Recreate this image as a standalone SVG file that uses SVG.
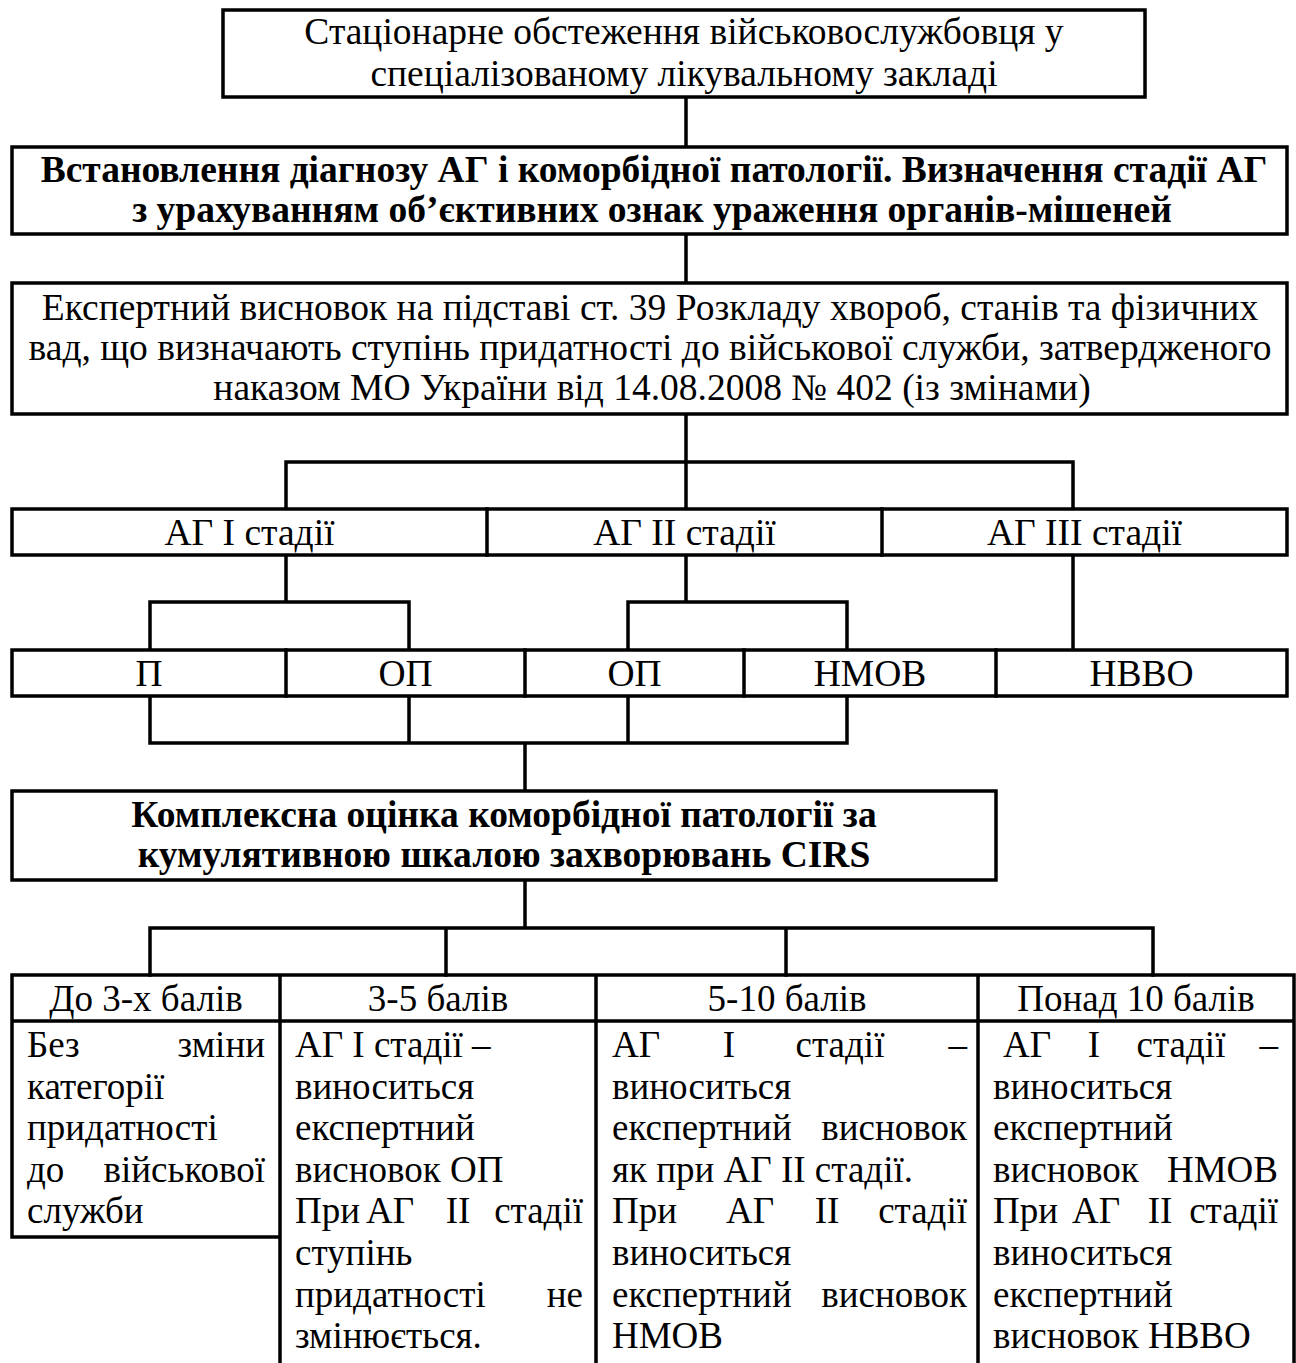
<svg xmlns="http://www.w3.org/2000/svg" width="1296" height="1363" viewBox="0 0 1296 1363">
<style>
.bx{fill:#fff;stroke:#000;stroke-width:3.5}
.ln{fill:none;stroke:#000;stroke-width:3.5;stroke-linecap:square}
.t{font-family:"Liberation Serif","Times New Roman",serif;font-size:37.5px;fill:#000}
.s{font-size:37px}
.b{font-weight:bold}
.c{text-anchor:middle}
.e{text-anchor:end}
</style>
<rect width="1296" height="1363" fill="#fff"/>
<g id="connectors" class="ln">
<path d="M686 97V147M686 234V283M686 414V462M286 462H1073M286 462V509M686 462V509M1073 462V509"/>
<path d="M286 555V602M150 602H409M150 602V650M409 602V650"/>
<path d="M686 555V602M628 602H847M628 602V650M847 602V650"/>
<path d="M1073 555V650"/>
<path d="M150 696V743M409 696V743M628 696V743M847 696V743M150 743H847M525 743V791"/>
<path d="M525 880V928M150 928H1153M150 928V975M446 928V975M786 928V975M1153 928V975"/>
</g>
<g id="n1">
<rect class="bx" x="223" y="10" width="922" height="87"/>
<text class="t c" x="684" y="44">Стаціонарне обстеження військовослужбовця у</text>
<text class="t c" x="684" y="86">спеціалізованому лікувальному закладі</text>
</g>
<g id="n2">
<rect class="bx" x="12" y="147" width="1275" height="87"/>
<text class="t b c" x="654" y="182">Встановлення діагнозу АГ і коморбідної патології. Визначення стадії АГ</text>
<text class="t b c" x="652" y="222">з урахуванням об’єктивних ознак ураження органів-мішеней</text>
</g>
<g id="n3">
<rect class="bx" x="12" y="283" width="1275" height="131"/>
<text class="t c" x="650" y="320">Експертний висновок на підставі ст. 39 Розкладу хвороб, станів та фізичних</text>
<text class="t c" x="650" y="360">вад, що визначають ступінь придатності до військової служби, затвердженого</text>
<text class="t c" x="652" y="400">наказом МО України від 14.08.2008 № 402 (із змінами)</text>
</g>
<g id="stages">
<rect class="bx" x="12" y="509" width="1275" height="46"/>
<path class="ln" d="M487 509V555M882 509V555"/>
<text class="t c" x="249.5" y="545">АГ І стадії</text>
<text class="t c" x="684.5" y="545">АГ ІІ стадії</text>
<text class="t c" x="1084.5" y="545">АГ ІІІ стадії</text>
</g>
<g id="verdicts">
<rect class="bx" x="12" y="650" width="1275" height="46"/>
<path class="ln" d="M286 650V696M525 650V696M744 650V696M996 650V696"/>
<text class="t c" x="149" y="686">П</text>
<text class="t c" x="405.5" y="686">ОП</text>
<text class="t c" x="634.5" y="686">ОП</text>
<text class="t c" x="870" y="686">НМОВ</text>
<text class="t c" x="1141.5" y="686">НВВО</text>
</g>
<g id="n4">
<rect class="bx" x="12" y="791" width="984" height="89"/>
<text class="t b c" x="504" y="827">Комплексна оцінка коморбідної патології за</text>
<text class="t b c" x="504" y="867">кумулятивною шкалою захворювань CIRS</text>
</g>
<g id="table">
<path class="ln" d="M12 975H1294M12 1021H1294M12 975V1237H280M280 975V1370M596 975V1370M978 975V1370M1294 975V1370"/>
</g>
<g id="col1">
<text class="t s c" x="146" y="1011">До 3-х балів</text>
<text class="t s" x="27" y="1057">Без</text><text class="t s e" x="265" y="1057">зміни</text>
<text class="t s" x="27" y="1098.6">категорії</text>
<text class="t s" x="27" y="1140.2">придатності</text>
<text class="t s" x="27" y="1181.8">до</text><text class="t s e" x="265" y="1181.8">військової</text>
<text class="t s" x="27" y="1223.4">служби</text>
</g>
<g id="col2">
<text class="t s c" x="438" y="1011">3-5 балів</text>
<text class="t s" x="295" y="1057">АГ І стадії –</text>
<text class="t s" x="295" y="1098.6">виноситься</text>
<text class="t s" x="295" y="1140.2">експертний</text>
<text class="t s" x="295" y="1181.8">висновок ОП</text>
<text class="t s" x="295" y="1223.4">При</text><text class="t s c" x="390" y="1223.4">АГ</text><text class="t s c" x="458" y="1223.4">ІІ</text><text class="t s e" x="583" y="1223.4">стадії</text>
<text class="t s" x="295" y="1265">ступінь</text>
<text class="t s" x="295" y="1306.6">придатності</text><text class="t s e" x="583" y="1306.6">не</text>
<text class="t s" x="295" y="1348.2">змінюється.</text>
</g>
<g id="col3">
<text class="t s c" x="787" y="1011">5-10 балів</text>
<text class="t s" x="612" y="1057">АГ</text><text class="t s c" x="729" y="1057">І</text><text class="t s c" x="840" y="1057">стадії</text><text class="t s e" x="967" y="1057">–</text>
<text class="t s" x="612" y="1098.6">виноситься</text>
<text class="t s" x="612" y="1140.2">експертний</text><text class="t s e" x="967" y="1140.2">висновок</text>
<text class="t s" x="612" y="1181.8">як при АГ ІІ стадії.</text>
<text class="t s" x="612" y="1223.4">При</text><text class="t s c" x="750" y="1223.4">АГ</text><text class="t s c" x="827" y="1223.4">ІІ</text><text class="t s e" x="967" y="1223.4">стадії</text>
<text class="t s" x="612" y="1265">виноситься</text>
<text class="t s" x="612" y="1306.6">експертний</text><text class="t s e" x="967" y="1306.6">висновок</text>
<text class="t s" x="612" y="1348.2">НМОВ</text>
</g>
<g id="col4">
<text class="t s c" x="1136" y="1011">Понад 10 балів</text>
<text class="t s" x="1003" y="1057">АГ</text><text class="t s c" x="1094" y="1057">І</text><text class="t s c" x="1181" y="1057">стадії</text><text class="t s e" x="1278" y="1057">–</text>
<text class="t s" x="993" y="1098.6">виноситься</text>
<text class="t s" x="993" y="1140.2">експертний</text>
<text class="t s" x="993" y="1181.8">висновок</text><text class="t s e" x="1278" y="1181.8">НМОВ</text>
<text class="t s" x="993" y="1223.4">При</text><text class="t s c" x="1096" y="1223.4">АГ</text><text class="t s c" x="1160" y="1223.4">ІІ</text><text class="t s e" x="1278" y="1223.4">стадії</text>
<text class="t s" x="993" y="1265">виноситься</text>
<text class="t s" x="993" y="1306.6">експертний</text>
<text class="t s" x="993" y="1348.2">висновок НВВО</text>
</g>
</svg>
